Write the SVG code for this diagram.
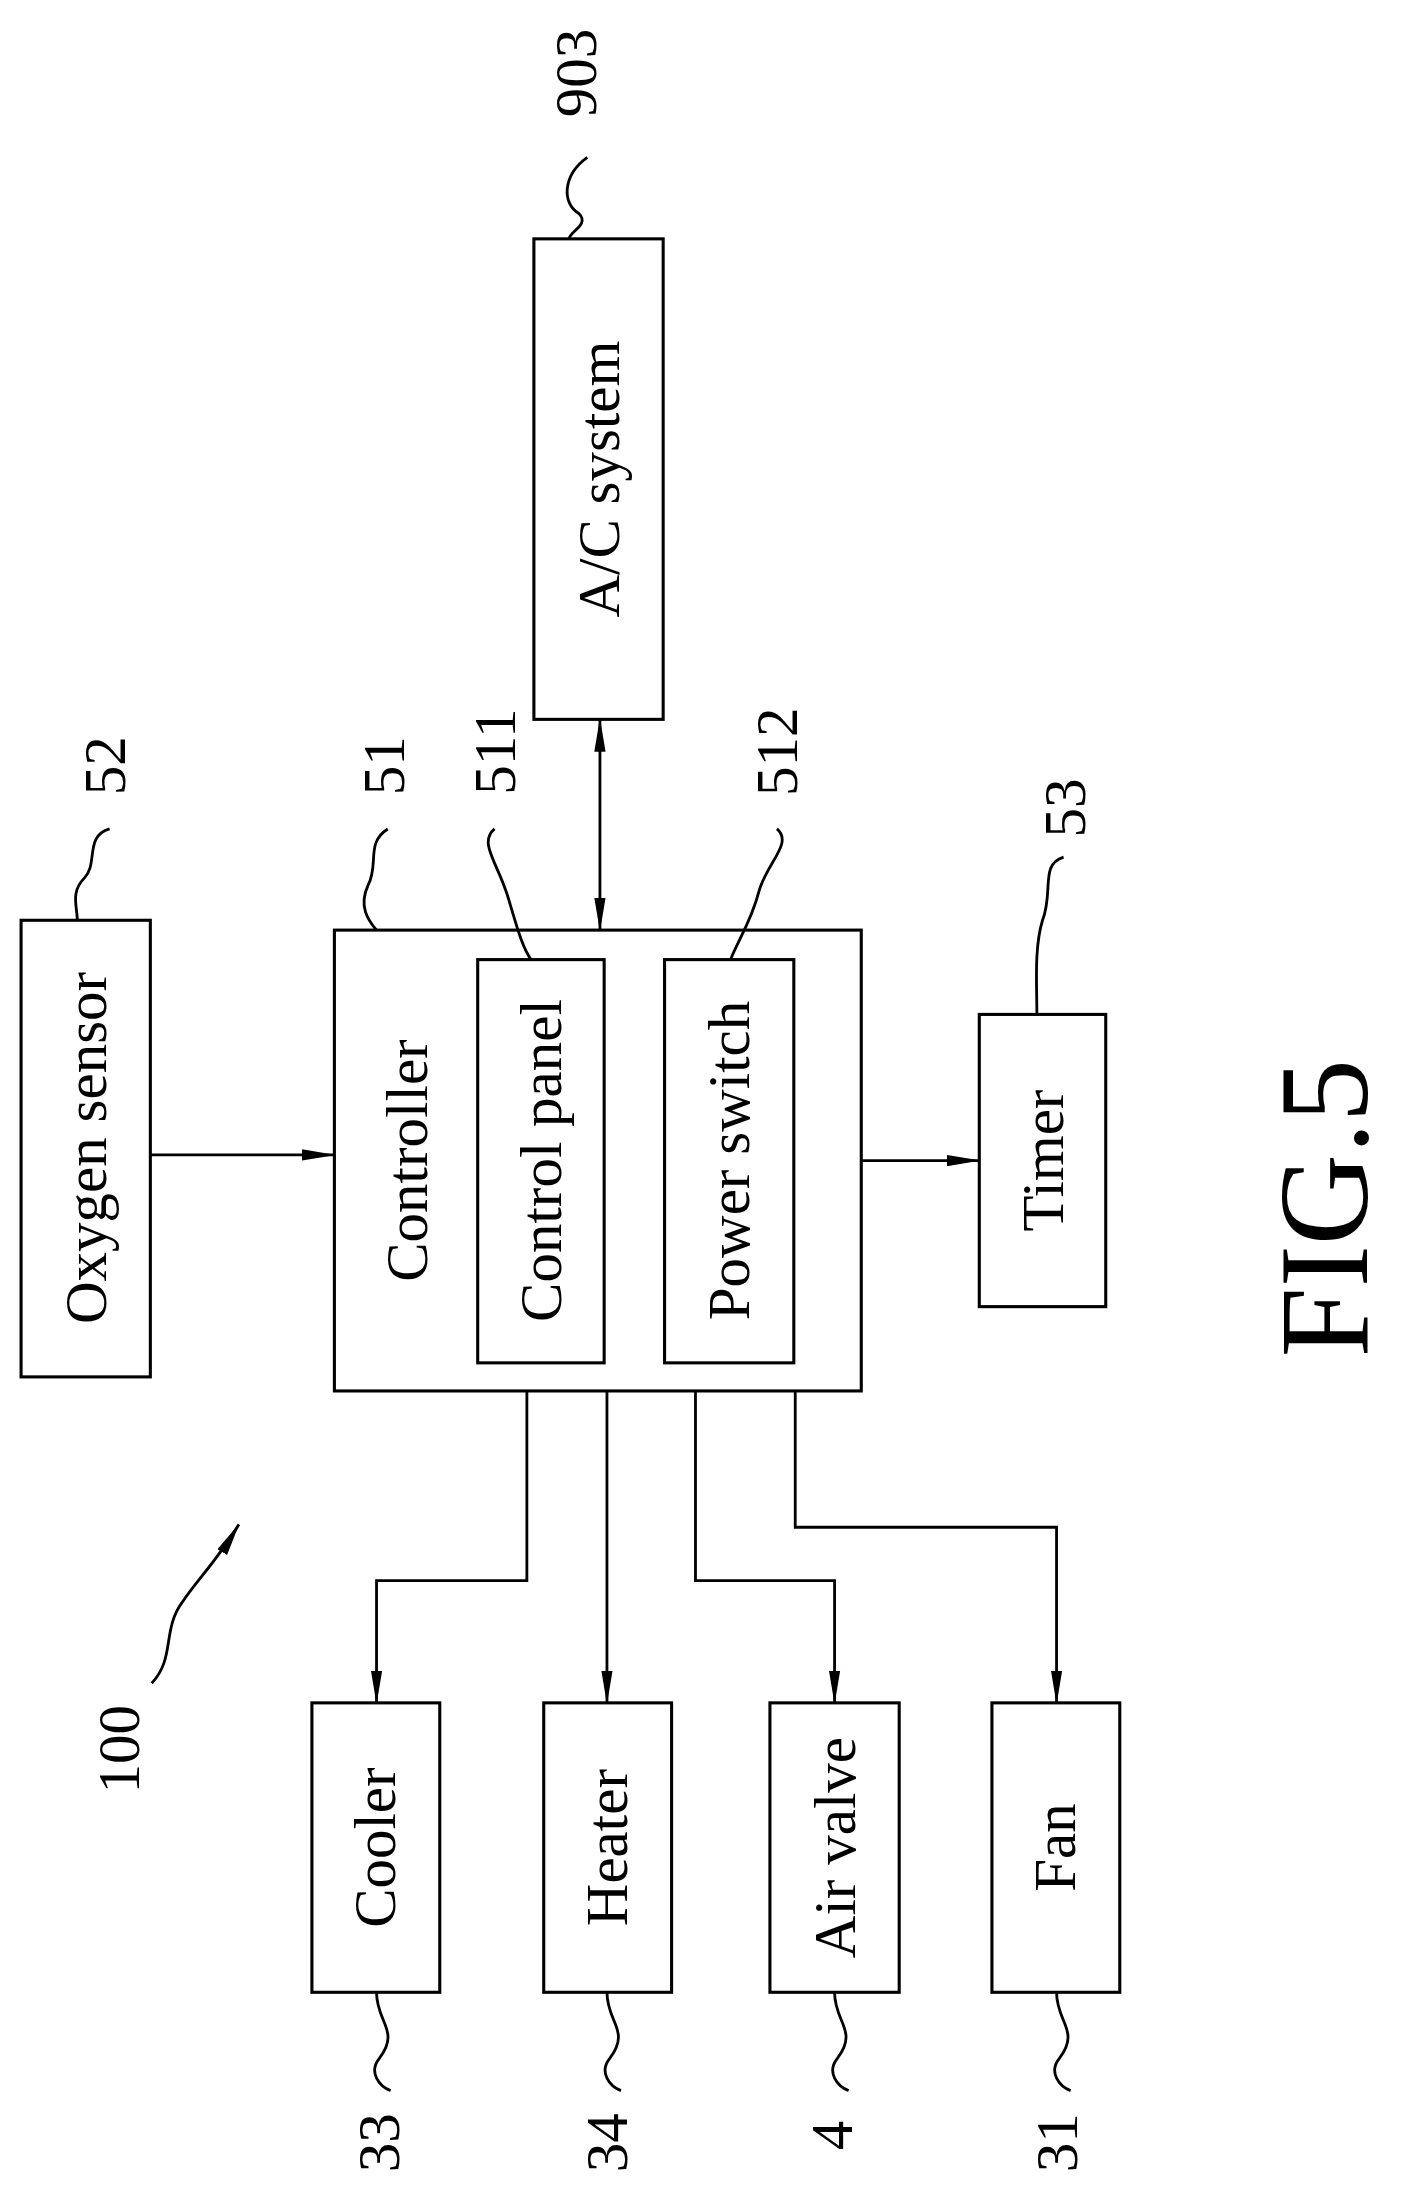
<svg xmlns="http://www.w3.org/2000/svg" width="1405" height="2193" viewBox="0 0 1405 2193">
<defs>
<style>
.b{fill:none;stroke:#000;stroke-width:2.2}
.l{fill:none;stroke:#000;stroke-width:2}
.t{font-family:"Liberation Serif",serif;font-size:42px;fill:#000;text-anchor:middle;dominant-baseline:central}
</style>
<marker id="a" markerWidth="24" markerHeight="10" refX="23" refY="5" orient="auto-start-reverse" markerUnits="userSpaceOnUse">
<path d="M0,1 L24,5 L0,9 Z" fill="#000"/>
</marker>
</defs>
<rect width="1405" height="2193" fill="#fff"/>
<g transform="scale(1.405)">
<g id="oxygen"><rect class="b" x="15" y="655" width="92" height="325"/><text class="t" transform="translate(61,817) rotate(-90)">Oxygen sensor</text></g>
<g id="controller"><rect class="b" x="238" y="662" width="375" height="328"/><text class="t" transform="translate(290,826) rotate(-90)">Controller</text></g>
<g id="panel"><rect class="b" x="340" y="683" width="90" height="287"/><text class="t" transform="translate(385,826) rotate(-90)">Control panel</text></g>
<g id="power"><rect class="b" x="473" y="683" width="92" height="287"/><text class="t" transform="translate(519,826) rotate(-90)">Power switch</text></g>
<g id="ac"><rect class="b" x="380" y="170" width="92" height="342"/><text class="t" transform="translate(426,341) rotate(-90)">A/C system</text></g>
<g id="timer"><rect class="b" x="697" y="722" width="90" height="208"/><text class="t" transform="translate(742,826) rotate(-90)">Timer</text></g>
<g id="cooler"><rect class="b" x="222" y="1212" width="91" height="206"/><text class="t" transform="translate(267,1315) rotate(-90)">Cooler</text></g>
<g id="heater"><rect class="b" x="387" y="1212" width="91" height="206"/><text class="t" transform="translate(432,1315) rotate(-90)">Heater</text></g>
<g id="airvalve"><rect class="b" x="548" y="1212" width="92" height="206"/><text class="t" transform="translate(594,1315) rotate(-90)">Air valve</text></g>
<g id="fan"><rect class="b" x="706" y="1212" width="91" height="206"/><text class="t" transform="translate(751,1315) rotate(-90)">Fan</text></g>
<g id="connectors">
<path class="l" d="M107,822 H238" marker-end="url(#a)"/>
<path class="l" d="M427,512 V662" marker-start="url(#a)" marker-end="url(#a)"/>
<path class="l" d="M613,826 H697" marker-end="url(#a)"/>
<path class="l" d="M375,990 V1125 H268 V1212" marker-end="url(#a)"/>
<path class="l" d="M432,990 V1212" marker-end="url(#a)"/>
<path class="l" d="M495,990 V1125 H594 V1212" marker-end="url(#a)"/>
<path class="l" d="M566,990 V1087 H752 V1212" marker-end="url(#a)"/>
<path class="l" d="M418,112 C400,125 400,145 412,152 C420,160 405,165 405,170"/>
<path class="l" d="M78,590 C60,595 70,615 60,625 C50,635 55,645 55,655"/>
<path class="l" d="M276,590 C260,600 270,615 262,630 C255,645 262,655 268,662"/>
<path class="l" d="M352,590 C340,600 355,615 362,640 C368,660 372,675 378,683"/>
<path class="l" d="M553,590 C565,600 545,615 540,635 C535,655 525,670 520,683"/>
<path class="l" d="M757,610 C740,615 750,635 742,655 C736,675 738,700 738,722"/>
<path class="l" d="M268,1418 C268,1440 285,1445 270,1465 C262,1475 270,1485 278,1488"/>
<path class="l" d="M432,1418 C432,1440 449,1445 434,1465 C426,1475 434,1485 442,1488"/>
<path class="l" d="M594,1418 C594,1440 611,1445 596,1465 C588,1475 596,1485 604,1488"/>
<path class="l" d="M752,1418 C752,1440 769,1445 754,1465 C746,1475 754,1485 762,1488"/>
<path class="l" d="M108,1198 C125,1180 115,1160 130,1140 C140,1125 155,1110 170,1085" marker-end="url(#a)"/>
</g>
<text class="t" transform="translate(410,52) rotate(-90)">903</text>
<text class="t" transform="translate(75,545) rotate(-90)">52</text>
<text class="t" transform="translate(273,545) rotate(-90)">51</text>
<text class="t" transform="translate(352,535) rotate(-90)">511</text>
<text class="t" transform="translate(553,535) rotate(-90)">512</text>
<text class="t" transform="translate(758,575) rotate(-90)">53</text>
<text class="t" transform="translate(85,1245) rotate(-90)">100</text>
<text class="t" transform="translate(270,1525) rotate(-90)">33</text>
<text class="t" transform="translate(432,1525) rotate(-90)">34</text>
<text class="t" transform="translate(592,1520) rotate(-90)">4</text>
<text class="t" transform="translate(752,1525) rotate(-90)">31</text>
<text class="t" style="font-size:90px" transform="translate(942,860) rotate(-90)">FIG.5</text>
</g>
</svg>
